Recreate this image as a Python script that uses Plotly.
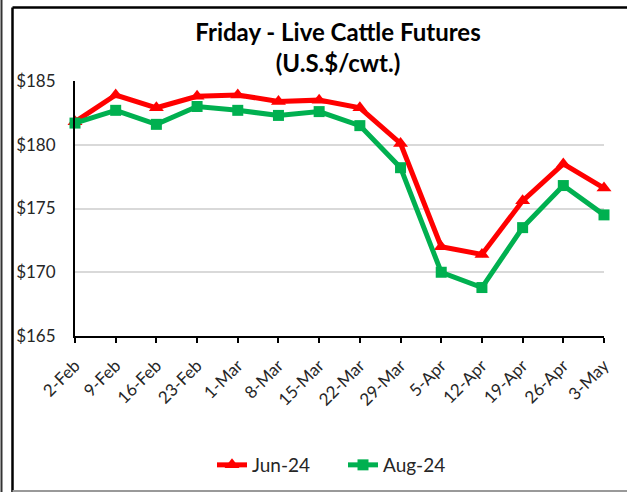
import plotly.graph_objects as go

dates = ["2-Feb", "9-Feb", "16-Feb", "23-Feb", "1-Mar", "8-Mar", "15-Mar",
         "22-Mar", "29-Mar", "5-Apr", "12-Apr", "19-Apr", "26-Apr", "3-May"]
jun24 = [181.8, 183.9, 182.9, 183.8, 183.9, 183.4, 183.5,
         182.9, 180.1, 172.0, 171.4, 175.6, 178.5, 176.6]
aug24 = [181.7, 182.7, 181.6, 183.0, 182.7, 182.3, 182.6,
         181.5, 178.2, 170.0, 168.8, 173.5, 176.8, 174.5]
ytick_vals = [165, 170, 175, 180, 185]
ytick_text = ["$165", "$170", "$175", "$180", "$185"]

W, H = 627, 492
L, R, T, B = 75, 23, 81, 156
pw, ph = W - L - R, H - T - B

def px(x):
    return (x - L) / pw

def py(y):
    return (H - B - y) / ph

font = "Lato, Open Sans, sans-serif"
txt = "#262626"

fig = go.Figure()
fig.add_trace(go.Scatter(
    x=dates, y=jun24, name="Jun-24", mode="lines+markers",
    line=dict(color="#FF0000", width=5),
    marker=dict(symbol="triangle-up", size=13, color="#FF0000"),
    cliponaxis=False))
fig.add_trace(go.Scatter(
    x=dates, y=aug24, name="Aug-24", mode="lines+markers",
    line=dict(color="#00B050", width=5),
    marker=dict(symbol="square", size=11, color="#00B050"),
    cliponaxis=False))

fig.update_layout(
    width=W, height=H,
    margin=dict(l=L, r=R, t=T, b=B, autoexpand=False),
    paper_bgcolor="white", plot_bgcolor="white",
    font=dict(family=font, color=txt, size=16),
    title=dict(text="<b>Friday - Live Cattle Futures<br>(U.S.$/cwt.)</b>",
               x=338 / W, xref="container", xanchor="center",
               y=1 - 41 / H, yref="container", yanchor="middle",
               font=dict(size=24, family=font, color="#000000")),
    showlegend=True,
    legend=dict(orientation="h", x=px(212), xanchor="left",
                y=py(465), yanchor="middle",
                entrywidth=86, entrywidthmode="pixels",
                font=dict(size=19, family=font, color=txt)),
    xaxis=dict(type="category", range=[0, len(dates) - 1],
               showgrid=False, showline=True, linecolor="#000000", linewidth=2,
               ticks="outside", ticklen=5, tickwidth=2, tickcolor="#000000",
               tickangle=-45, ticklabelstandoff=6,
               tickfont=dict(size=17, family=font, color=txt)),
    yaxis=dict(range=[165, 185], tickvals=ytick_vals, ticktext=ytick_text,
               showgrid=True, gridcolor="#D9D9D9", gridwidth=2,
               showline=True, linecolor="#000000", linewidth=2,
               ticks="", zeroline=False, ticklabelstandoff=14,
               tickfont=dict(size=17, family=font, color=txt)),
    shapes=[
        dict(type="line", xref="paper", yref="paper",
             x0=px(12.5), x1=px(12.5), y0=py(7.5), y1=py(492), line=dict(color="#000", width=2.5)),
        dict(type="line", xref="paper", yref="paper",
             x0=px(12.5), x1=px(627), y0=py(7.5), y1=py(7.5), line=dict(color="#000", width=2.5)),
        dict(type="line", xref="paper", yref="paper",
             x0=px(12.5), x1=px(627), y0=py(491), y1=py(491), line=dict(color="#999", width=2)),
        dict(type="line", xref="paper", yref="paper",
             x0=px(1.5), x1=px(1.5), y0=py(0), y1=py(492), line=dict(color="#333", width=2)),
    ],
)

fig.write_html("out.html", config={"displayModeBar": False},
               post_script="document.body.style.margin='0';")
